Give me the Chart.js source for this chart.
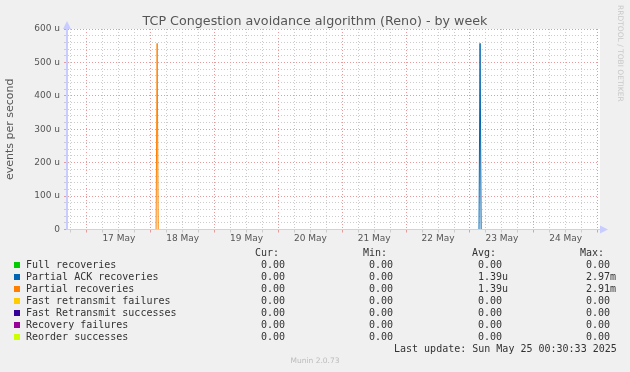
<!DOCTYPE html>
<html lang="en">
<head>
    <meta charset="UTF-8">
    <title>TCP Congestion avoidance algorithm (Reno) - by week</title>
    <style>
        html, body { margin: 0; padding: 0; background: #f0f0f0; }
        #wrap { position: relative; width: 630px; height: 372px; overflow: hidden; }
        #chart { position: absolute; left: 0; top: 0; }
        .mono { position: absolute; font-family: "DejaVu Sans Mono", monospace; font-size: 10px; line-height: 12px; color: #333; white-space: pre; }
        .sw { position: absolute; width: 6px; height: 6px; }
        #rrd { position: absolute; left: 616px; top: 5px; writing-mode: vertical-rl; font-family: "DejaVu Sans", sans-serif; font-size: 7.5px; color: #c8c8c8; white-space: nowrap; }
        #munin { position: absolute; left: 0; width: 630px; top: 356px; text-align: center; font-family: "DejaVu Sans", sans-serif; font-size: 7.5px; color: #bbb; }
    </style>
</head>
<body>
    <div id="wrap">
        <canvas id="chart" width="630" height="372"></canvas>
        <div id="rrd">RRDTOOL / TOBI OETIKER</div>
        <div id="legend"></div>
        <div id="munin">Munin 2.0.73</div>
    </div>
    <script src="https://cdn.jsdelivr.net/npm/chart.js"></script>
    <script>
// hours counted from 16 May 00:00, window is 16 May 16:30 .. 25 May 00:30
const windowStart = 16.51;
const windowEnd = 216.51;
const dayNames = ['16 May', '17 May', '18 May', '19 May', '20 May', '21 May', '22 May', '23 May', '24 May', '25 May'];

const seriesNames = ['Full recoveries', 'Partial ACK recoveries', 'Partial recoveries', 'Fast retransmit failures',
    'Fast Retransmit successes', 'Recovery failures', 'Reorder successes'];
const seriesColors = ['#00cc00', '#0066b3', '#ff8000', '#ffcc00', '#330099', '#990099', '#ccff00'];

// values in micro events per second
const flatHours = [windowStart, windowEnd];
const flatValues = [0, 0];
const partialAckHours = [windowStart, 171.4, 171.8, 172.2, windowEnd];
const partialAckValues = [0, 0, 557, 0, 0];
const partialHours = [windowStart, 50.0, 50.4, 50.8, windowEnd];
const partialValues = [0, 0, 557, 0, 0];

const curText = ['0.00', '0.00', '0.00', '0.00', '0.00', '0.00', '0.00'];
const minText = ['0.00', '0.00', '0.00', '0.00', '0.00', '0.00', '0.00'];
const avgText = ['0.00', '1.39u', '1.39u', '0.00', '0.00', '0.00', '0.00'];
const maxText = ['0.00', '2.97m', '2.91m', '0.00', '0.00', '0.00', '0.00'];
const lastUpdate = 'Last update: Sun May 25 00:30:33 2025';

function pts(hours, values) {
    return hours.map((h, i) => ({ x: h, y: values[i] }));
}

const seriesPoints = [
    pts(flatHours, flatValues),
    pts(partialAckHours, partialAckValues),
    pts(partialHours, partialValues),
    pts(flatHours, flatValues),
    pts(flatHours, flatValues),
    pts(flatHours, flatValues),
    pts(flatHours, flatValues)
];

const majorGrid = '#e89a9a';
const minorGrid = '#cccccc';
const axisColor = '#c8ccff';

const decor = {
    id: 'decor',
    beforeDraw(chart) {
        const { ctx, chartArea: a } = chart;
        ctx.save();
        ctx.fillStyle = '#ffffff';
        ctx.fillRect(a.left - 1, a.top, a.right - a.left + 2, a.bottom - a.top);
        ctx.restore();
    },
    afterDraw(chart) {
        const { ctx, chartArea: a } = chart;
        ctx.save();
        ctx.fillStyle = '#555';
        ctx.font = '12.7px "DejaVu Sans"';
        ctx.textAlign = 'center';
        ctx.textBaseline = 'alphabetic';
        ctx.fillText('TCP Congestion avoidance algorithm (Reno) - by week', 315, 25);
        // axis arrows
        ctx.fillStyle = axisColor;
        ctx.beginPath();
        ctx.moveTo(a.left - 4, a.top);
        ctx.lineTo(a.left, a.top - 8);
        ctx.lineTo(a.left + 4, a.top);
        ctx.fill();
        ctx.beginPath();
        ctx.moveTo(a.right + 1, a.bottom - 4);
        ctx.lineTo(a.right + 9, a.bottom);
        ctx.lineTo(a.right + 1, a.bottom + 4);
        ctx.fill();
        ctx.restore();
    }
};

new Chart(document.getElementById('chart'), {
    type: 'line',
    data: {
        datasets: seriesNames.map((name, i) => ({
            label: name,
            data: seriesPoints[i],
            borderColor: seriesColors[i],
            backgroundColor: seriesColors[i],
            borderWidth: 1,
            pointRadius: 0,
            tension: 0,
            fill: false,
            clip: 3,
            order: -i
        }))
    },
    options: {
        responsive: false,
        animation: false,
        devicePixelRatio: 1,
        layout: { padding: { top: 29, right: 31, left: 0, bottom: 0 } },
        plugins: { legend: { display: false }, tooltip: { enabled: false } },
        scales: {
            x: {
                type: 'linear',
                min: windowStart,
                max: windowEnd,
                afterFit: s => { s.height = 142.5; },
                afterBuildTicks: s => {
                    const t = [];
                    for (let h = 18; h <= 216; h += 6) t.push({ value: h });
                    s.ticks = t;
                },
                ticks: {
                    autoSkip: false,
                    maxRotation: 0,
                    padding: 1,
                    color: '#555',
                    font: { family: 'DejaVu Sans', size: 9 },
                    callback: v => (v % 24 === 12 ? dayNames[Math.floor(v / 24)] : '')
                },
                grid: {
                    color: c => (c.tick && c.tick.value % 24 === 0 ? majorGrid : minorGrid),
                    tickColor: c => (c.tick && c.tick.value % 24 === 0 ? majorGrid : minorGrid),
                    tickLength: 3,
                    lineWidth: 1
                },
                border: { display: true, color: axisColor, dash: [1, 2] }
            },
            y: {
                type: 'linear',
                min: 0,
                max: 600,
                afterFit: s => { s.width = 67; },
                afterBuildTicks: s => {
                    const t = [];
                    for (let v = 0; v <= 600; v += 20) t.push({ value: v });
                    s.ticks = t;
                },
                ticks: {
                    autoSkip: false,
                    padding: 4,
                    color: '#555',
                    font: { family: 'DejaVu Sans', size: 9 },
                    callback: v => (v % 100 === 0 ? (v === 0 ? '0' : v + ' u') : '')
                },
                grid: {
                    color: c => (c.tick && c.tick.value % 100 === 0 ? majorGrid : minorGrid),
                    tickColor: c => (c.tick && c.tick.value % 100 === 0 ? majorGrid : minorGrid),
                    tickLength: 3,
                    lineWidth: 1
                },
                border: { display: true, color: axisColor, width: 2, dash: [1, 2] },
                title: {
                    display: true,
                    text: 'events per second',
                    color: '#555',
                    font: { family: 'DejaVu Sans', size: 11 },
                    padding: { top: 4, bottom: 0 }
                }
            }
        }
    },
    plugins: [decor]
});

// legend table under the plot
const legend = document.getElementById('legend');
function put(text, left, top) {
    const d = document.createElement('div');
    d.className = 'mono';
    d.textContent = text;
    d.style.left = left + 'px';
    d.style.top = top + 'px';
    legend.appendChild(d);
}
const colLeft = [261, 369, 478, 586];
['Cur:', 'Min:', 'Avg:', 'Max:'].forEach((h, i) => put(h, colLeft[i] - 6, 246.5));
seriesNames.forEach((name, i) => {
    const top = 258.5 + 12 * i;
    const sw = document.createElement('div');
    sw.className = 'sw';
    sw.style.left = '14px';
    sw.style.top = (262 + 12 * i) + 'px';
    sw.style.background = seriesColors[i];
    legend.appendChild(sw);
    put(name, 26, top);
    put(curText[i], colLeft[0], top);
    put(minText[i], colLeft[1], top);
    put(avgText[i], colLeft[2], top);
    put(maxText[i], colLeft[3], top);
});
put(lastUpdate, 394, 342.5);
    </script>
</body>
</html>
